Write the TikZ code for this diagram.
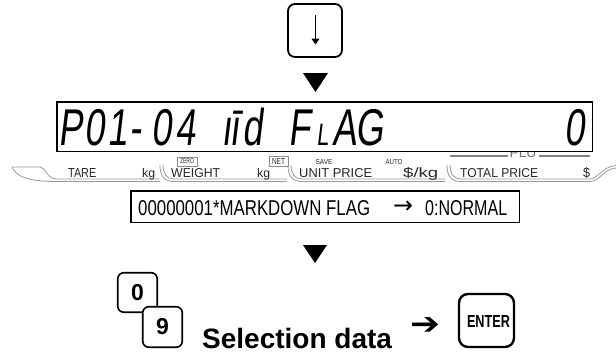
\documentclass[tikz,border=0pt]{standalone}
\usepackage{fontspec}
\setmainfont{Liberation Sans}
\newfontfamily\lcdfont[FakeSlant=0.12,FakeStretch=0.7]{Liberation Sans}
\newfontfamily\symfont{DejaVu Sans}
\usetikzlibrary{arrows.meta,calc}
\newcommand{\fitbox}[3]{\resizebox{#1pt}{#2pt}{#3}}
\begin{document}
\begin{tikzpicture}[x=1pt,y=-1pt,
  keybox/.style={draw, line width=1.8pt, rounded corners=7pt, fill=white, inner sep=0pt},
  lcdch/.style={anchor=base, inner sep=0pt, font=\lcdfont\fontsize{51.7}{52}\selectfont},
  lbl/.style={anchor=base west, inner sep=0pt, text=black!85},
  tiny/.style={inner sep=0pt, text=black!85},
  brk/.style={draw=black!40, line width=0.8pt},
  tri/.style={fill=black}]
\useasboundingbox (0,0) rectangle (616,354);
\fill[white] (0,0) rectangle (616,354);

% down key
\node[keybox, minimum width=54pt, minimum height=53pt] (kdown) at (315,30.5) {};
\coordinate (atop) at ($(kdown.center)+(0.5,-16)$);
\coordinate (abot) at ($(kdown.center)+(0.5,14)$);
\draw[line width=1.1pt, -{Triangle[width=8pt,length=6pt]}] (atop) -- (abot);

% triangle 1
\fill[tri] (303,73) -- (328,73) -- (315.5,92) -- cycle;

% PLU gray strip under the LCD
\node[tiny, text=black!55] (plu) at (523,153) {\fitbox{27}{9}{PLU}};
\draw[black!50, line width=2pt] (450,155.5) -- (508,155.5);
\draw[black!50, line width=2pt] (539,155.5) -- (590,155.5);

% LCD box
\node[draw, line width=1.5pt, fill=white, minimum width=535.5pt, minimum height=49.5pt, inner sep=0pt] (lcd) at (324.5,126.5) {};
\foreach \x/\c [count=\i] in {71/P, 95/0, 118/1, 136/-, 162/0, 186/4, 227/ı, 234.5/ī, 253/d, 345/A, 370/G, 574.5/0}
  \node[lcdch] (lcd\i) at (\x,145) {\c};
\node[lcdch, anchor=base west] (lcdFL) at (288,145) {F\kern6pt{\fontsize{31}{32}\selectfont L}};

% brackets
\draw[brk] (12,167) -- (40,167) .. controls (46,167) and (46,178) .. (56,179) -- (160,179);
\draw[brk] (12,167) .. controls (16,177) and (30,181.5) .. (56,181.5) -- (160,181.5);
\foreach \a/\b in {160/287, 288/445, 447/590} {
  \draw[brk] (\a,165) .. controls (\a,176) and (\a+4,181.5) .. (\a+14,181.5) -- (\b,181.5);
  \draw[brk] (\a+3,165) .. controls (\a+3,174) and (\a+7,179) .. (\a+14,179) -- (\b,179);
}
\draw[brk] (590,181.5) .. controls (600,181.5) and (603,169) .. (616,168);
\draw[brk] (590,179) .. controls (598,179) and (602,166.5) .. (616,165.5);

% labels
\node[lbl] (tare) at (68,177) {\fitbox{28}{9}{TARE}};
\node[lbl] (kg1) at (142,177) {\fitbox{13}{9}{kg}};
\node[lbl] (weight) at (171,177) {\fitbox{49}{9}{WEIGHT}};
\node[lbl] (kg2) at (257,177) {\fitbox{13}{9}{kg}};
\node[lbl] (unit) at (299,177) {\fitbox{73}{9}{UNIT PRICE}};
\node[lbl] (dkg) at (403,177) {\fitbox{35}{10}{\$/kg}};
\node[lbl] (total) at (460,177) {\fitbox{78}{9}{TOTAL PRICE}};
\node[lbl] (dol) at (583,177) {\fitbox{7}{10}{\$}};
\node[draw=black!45, line width=0.6pt, minimum width=20pt, minimum height=9pt, tiny] (zero) at (187,161.5) {\fitbox{14}{5}{ZERO}};
\node[draw=black!45, line width=0.6pt, minimum width=19pt, minimum height=10pt, tiny] (net) at (278.5,161) {\fitbox{13}{6}{NET}};
\node[tiny] (save) at (324,162.5) {\fitbox{17}{5}{SAVE}};
\node[tiny] (auto) at (394,162.5) {\fitbox{17}{5}{AUTO}};

% markdown box
\node[draw, line width=1.5pt, fill=white, minimum width=388.5pt, minimum height=31.5pt, inner sep=0pt] (mdbox) at (325,206.5) {};
\node[lbl, text=black] (md1) at (138,215) {\fitbox{232}{15}{00000001*MARKDOWN FLAG}};
\node[inner sep=0pt] (md2) at (403,207.5) {\resizebox{20pt}{!}{\symfont →}};
\node[lbl, text=black] (md3) at (425,215) {\fitbox{82}{15}{0:NORMAL}};

% triangle 2
\fill[tri] (303,245) -- (327,245) -- (315,263) -- cycle;

% numeric keys
\node[keybox, line width=1.6pt, rounded corners=6pt, minimum width=39.5pt, minimum height=39.5pt, font=\bfseries\fontsize{23}{24}\selectfont] (k0) at (137.5,292.5) {0};
\node[keybox, line width=1.6pt, rounded corners=6pt, minimum width=39.5pt, minimum height=40.5pt, font=\bfseries\fontsize{23}{24}\selectfont] (k9) at (162.5,327) {9};

% selection data
\node[anchor=base west, inner sep=0pt, font=\bfseries\fontsize{28}{30}\selectfont] (sel) at (202,348) {Selection data};
\node[inner sep=0pt] (arr) at (425,326) {\resizebox{30pt}{17pt}{\symfont ➔}};

% enter key
\node[keybox, line width=2.4pt, rounded corners=9pt, minimum width=55pt, minimum height=53pt] (kent) at (486.5,320.5) {};
\node[inner sep=0pt, font=\bfseries] (enttxt) at (488.5,321) {\fitbox{43}{12}{ENTER}};
\end{tikzpicture}
\end{document}
